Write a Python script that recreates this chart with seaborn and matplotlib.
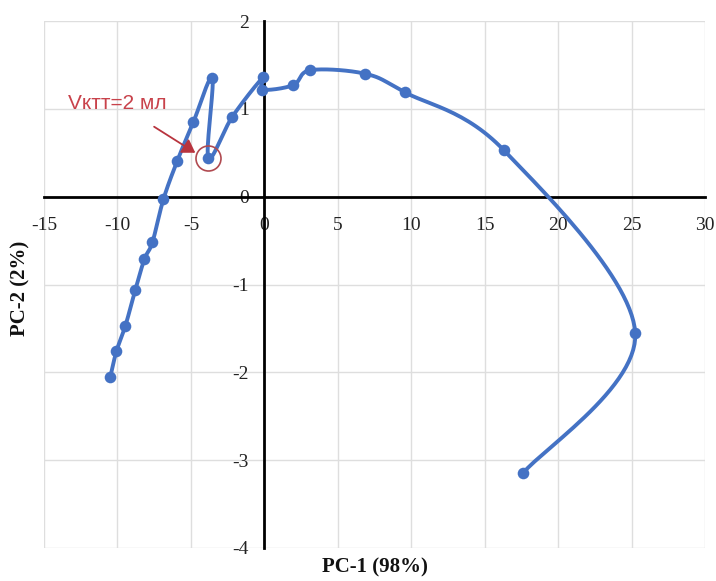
import numpy as np
import pandas as pd
import seaborn as sns
import matplotlib
matplotlib.use("Agg")
import matplotlib.pyplot as plt

# ---- data ----
pc1 = [-10.48, -10.07, -9.46, -8.78, -8.16, -7.62, -6.87, -5.92, -4.83, -3.54,
       -3.81, -2.18, -0.07, -0.14, 1.97, 3.13, 6.85, 9.55, 16.3, 25.25, 17.6]
pc2 = [-2.05, -1.76, -1.47, -1.06, -0.71, -0.52, -0.03, 0.41, 0.85, 1.35,
       0.44, 0.91, 1.36, 1.22, 1.27, 1.44, 1.40, 1.19, 0.53, -1.55, -3.15]
x_ticks = [-15, -10, -5, 0, 5, 10, 15, 20, 25, 30]
y_ticks = [-4, -3, -2, -1, 0, 1, 2]
annot_text = "Vктт=2 мл"
annot_point = (-3.81, 0.44)      # highlighted sample
x_label = "PC-1 (98%)"
y_label = "PC-2 (2%)"

df = pd.DataFrame({"PC1": pc1, "PC2": pc2, "order": range(len(pc1))})


def smooth(xs, ys, n=30):
    """Excel-like smoothed line (Catmull-Rom / cubic Bezier) through the points."""
    P = np.column_stack([xs, ys]).astype(float)
    P_ext = np.vstack([P[0], P, P[-1]])
    out = []
    t = np.linspace(0, 1, n)[:, None]
    for i in range(1, len(P_ext) - 2):
        p0, p1, p2, p3 = P_ext[i - 1], P_ext[i], P_ext[i + 1], P_ext[i + 2]
        c1 = p1 + (p2 - p0) / 6.0
        c2 = p2 - (p3 - p1) / 6.0
        seg = ((1 - t) ** 3) * p1 + 3 * ((1 - t) ** 2) * t * c1 + 3 * (1 - t) * t ** 2 * c2 + t ** 3 * p2
        out.append(seg if i == 1 else seg[1:])
    arr = np.vstack(out)
    return arr[:, 0], arr[:, 1]


sns.set_theme(style="white")
plt.rcParams["font.family"] = ["Liberation Serif", "DejaVu Serif"]

W, H = 716, 581
fig = plt.figure(figsize=(W / 100, H / 100), dpi=100)
ax = fig.add_axes([44 / W, (H - 548) / H, (705 - 44) / W, (548 - 21) / H])

blue = "#4472c4"
sx, sy = smooth(df["PC1"].values, df["PC2"].values)
line_df = pd.DataFrame({"x": sx, "y": sy})
sns.lineplot(data=line_df, x="x", y="y", sort=False, estimator=None, ax=ax,
             color=blue, linewidth=2.8, zorder=3)
sns.scatterplot(data=df, x="PC1", y="PC2", ax=ax, color=blue, s=70,
                edgecolor=blue, linewidth=0, zorder=4)

ax.set_xlim(-15, 30)
ax.set_ylim(-4, 2)
ax.set_xticks(x_ticks)
ax.set_yticks(y_ticks)
ax.set_xticklabels([str(v) for v in x_ticks])
ax.set_yticklabels([str(v) for v in y_ticks])
ax.grid(True, color="#dedede", linewidth=1.0)
ax.set_axisbelow(True)

for side in ["top", "right"]:
    ax.spines[side].set_visible(False)
for side in ["left", "bottom"]:
    ax.spines[side].set_position(("data", 0))
    ax.spines[side].set_color("black")
    ax.spines[side].set_linewidth(2.0)
    ax.spines[side].set_zorder(2.5)

ax.tick_params(axis="x", length=0, pad=15, labelsize=14, colors="#222222")
ax.tick_params(axis="y", length=0, pad=11, labelsize=14, colors="#222222")
ax.set_xlabel("")
ax.set_ylabel("")

# annotation
ax.annotate(annot_text, xy=(-4.7, 0.50), xytext=(-10.0, 1.06),
            ha="center", va="center", color="#c8424b", fontsize=15,
            family=["Liberation Sans", "DejaVu Sans"],
            arrowprops=dict(arrowstyle="-|>,head_length=0.55,head_width=0.35",
                            color="#b8343e", lw=1.3, shrinkA=14, shrinkB=0,
                            mutation_scale=14),
            zorder=5)
ax.plot([annot_point[0]], [annot_point[1]], marker="o", markersize=18,
        markerfacecolor="none", markeredgecolor="#b04a50", markeredgewidth=1.2,
        zorder=5)

fig.text(375 / W, 1 - 567 / H, x_label, ha="center", va="center",
         fontsize=15, fontweight="bold", color="#111111")
fig.text(20 / W, 1 - 288 / H, y_label, ha="center", va="center",
         rotation=90, fontsize=15, fontweight="bold", color="#111111")

fig.savefig("out.png", dpi=100, facecolor="white")
